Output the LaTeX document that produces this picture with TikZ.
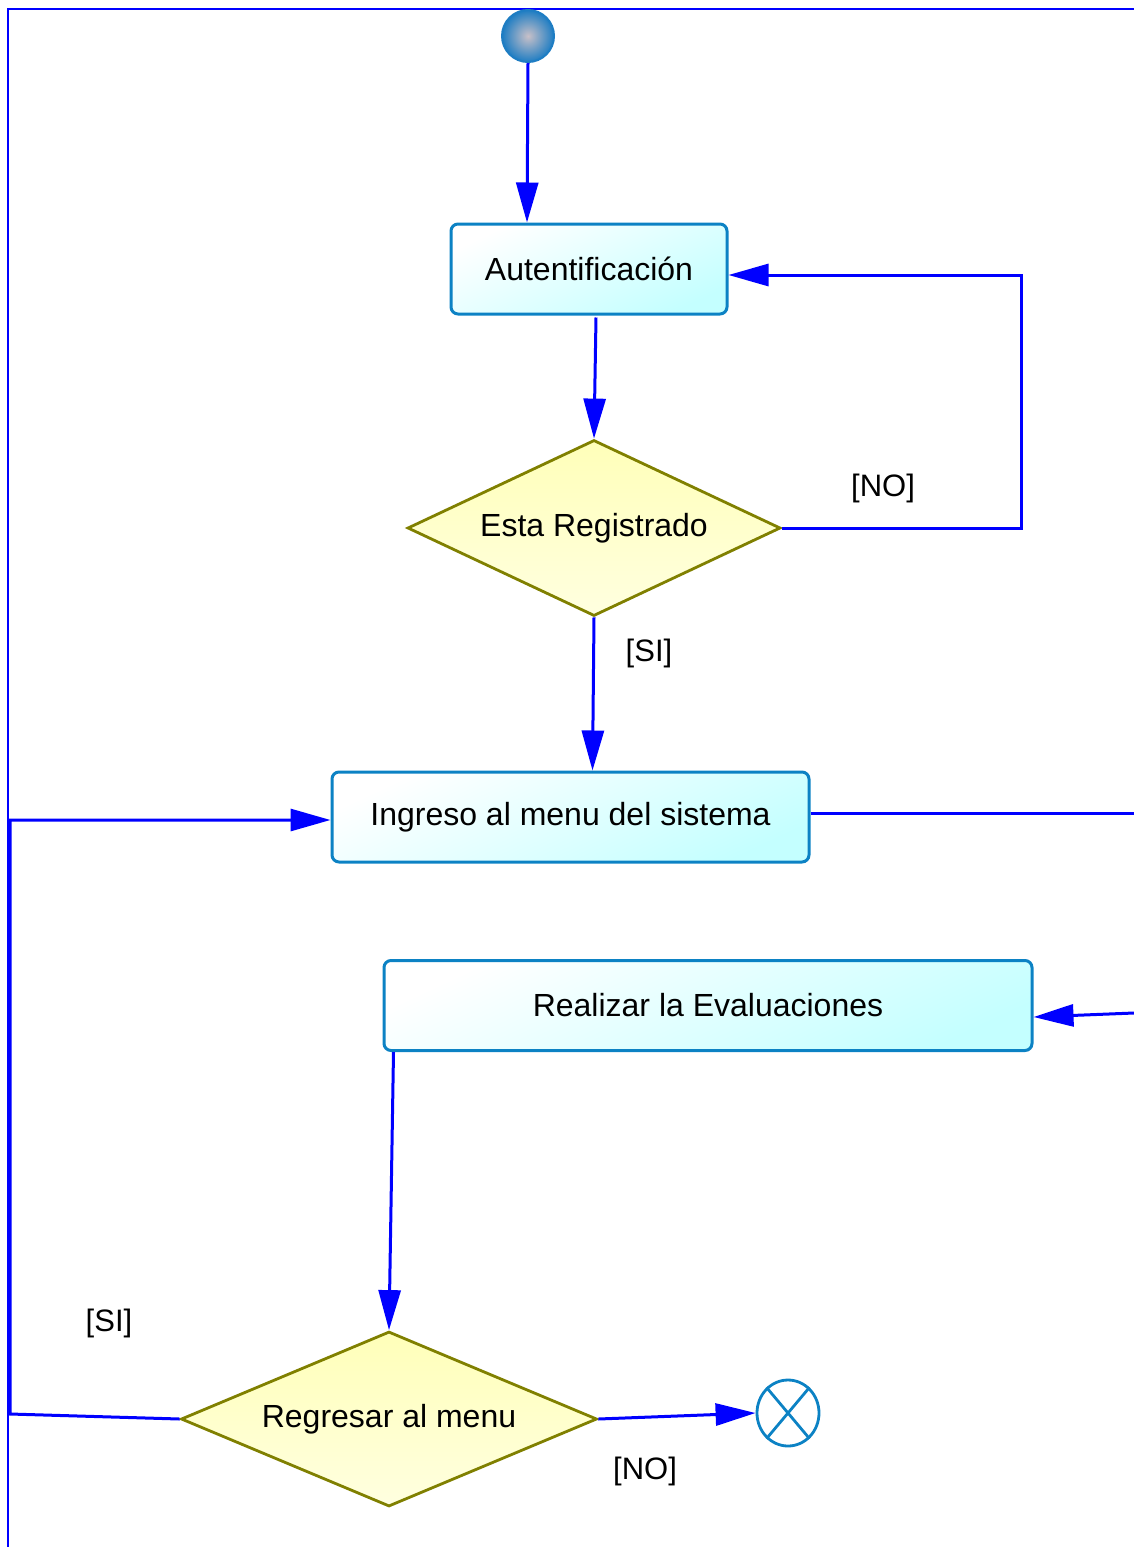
\documentclass[tikz,border=0pt]{standalone}
\usepackage{fontspec}
\setmainfont{Liberation Sans}
\usetikzlibrary{shapes.geometric,arrows.meta,calc}
\definecolor{flowblue}{RGB}{0,0,255}
\definecolor{actborder}{RGB}{12,130,196}
\definecolor{actfill}{RGB}{196,255,255}
\definecolor{decborder}{RGB}{128,128,0}
\definecolor{decfill}{RGB}{255,255,185}
\definecolor{startout}{RGB}{30,125,195}
\definecolor{startin}{RGB}{200,192,200}
\begin{document}
\begin{tikzpicture}[x=0.5pt,y=-0.5pt,
  every node/.style={font=\fontsize{16}{19}\selectfont},
  action/.style={draw=actborder, line width=1.5pt, rounded corners=3.5pt,
    top color=white, bottom color=actfill, shading angle=25,
    minimum height=45pt, inner sep=0pt},
  decision/.style={diamond, aspect=2.2, draw=decborder, line width=1.4pt,
    top color=decfill, bottom color=white!55!decfill, inner sep=0pt},
  guard/.style={font=\fontsize{15.5}{18}\selectfont},
  flow/.style={draw=flowblue, line width=1.5pt,
    -{Triangle[length=20pt,width=11pt]}},
  plain/.style={draw=flowblue, line width=1.5pt},
  startnode/.style={circle, draw=startout, line width=1pt,
    inner color=startin, outer color=startout, minimum size=26pt, inner sep=0pt},
  endnode/.style={ellipse, draw=actborder, line width=1.4pt,
    minimum width=31pt, minimum height=33pt, inner sep=0pt}
]
\useasboundingbox (0,0) rectangle (1134,1547);

% swimlane frame
\draw[flowblue, line width=0.9pt] (1134,9) -- (8,9) -- (8,1547);

% nodes
\node[startnode] (init) at (528,36) {};
\node[action, minimum width=138pt] (auth) at (589,269) {Autentificación};
\node[decision, minimum width=186.5pt, minimum height=88pt] (esta) at (594,528) {Esta Registrado};
\node[action, minimum width=238.5pt] (menu) at (570.5,817) {Ingreso al menu del sistema};
\node[action, minimum width=324pt] (eval) at (708,1005.5) {Realizar la Evaluaciones};
\node[decision, minimum width=208pt, minimum height=87.5pt] (back) at (389,1419) {Regresar al menu};
\node[endnode] (fin) at (788,1413) {};
\draw[actborder, line width=1.4pt] (fin.130) -- (fin.-50) (fin.50) -- (fin.-130);

% free ends and bends of connectors
\coordinate (nobend) at (1021,275);
\coordinate (menuout) at (1134,813);
\coordinate (evalin) at (1134,1013);
\coordinate (silow) at (10,1414);
\coordinate (sihigh) at (10,820);

% connectors
\draw[flow] (init.south) -- ($(auth.north)+(-62,0)$);
\draw[flow] ($(auth.south)+(7,2)$) -- (esta.north);
\draw[flow] (esta.east) -| (nobend) -- ($(auth.east)+(0,6)$);
\draw[flow] (esta.south) -- ($(menu.north)+(22,0)$);
\draw[plain] ($(menu.east)+(0,-4)$) -- (menuout);
\draw[flow] (evalin) -- ($(eval.east)+(0,11.5)$);
\draw[flow] ($(eval.south west)+(11,0)$) -- (back.north);
\draw[flow] (back.east) -- (fin.west);
\draw[flow] (back.west) -- (silow) -- (sihigh) -- ($(menu.west)+(0,3)$);

% guards
\node[guard] at (883,488) {[NO]};
\node[guard] at (649,653) {[SI]};
\node[guard] at (109,1323) {[SI]};
\node[guard] at (645,1471) {[NO]};
\end{tikzpicture}
\end{document}
